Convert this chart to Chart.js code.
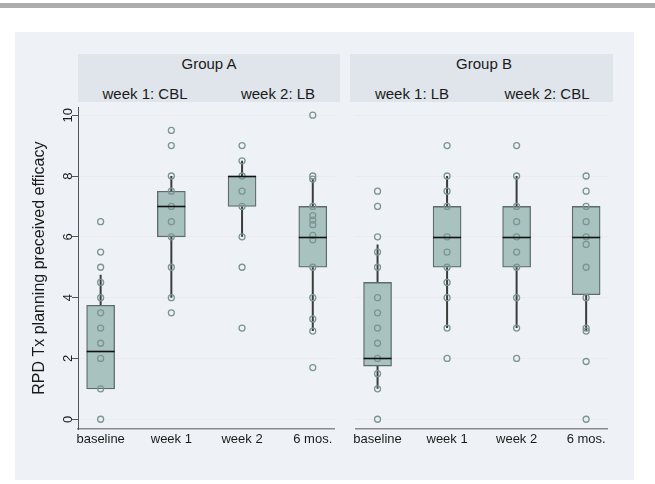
<!DOCTYPE html>
<html>
<head>
<meta charset="utf-8">
<script src="https://cdn.jsdelivr.net/npm/chart.js@4.4.1/dist/chart.umd.min.js"></script>
<style>
  body { margin: 0; background: #fff; font-family: "Liberation Sans", Arial, sans-serif; }
  #topbar { position: absolute; left: 0; top: 3px; width: 655px; height: 5px; background: #adadad; }
  #panel { position: absolute; left: 15px; top: 32px; width: 619px; height: 448px; background: #eef2f6; }
  .head { position: absolute; top: 54px; height: 48px; background: #dfe5eb; color: #1a1a1a; }
  .head div { position: absolute; font-size: 15px; white-space: nowrap; transform: translate(-50%, -50%); }
  .wrap { position: absolute; top: 102px; height: 357px; }
</style>
</head>
<body>
<div id="topbar"></div>
<div id="panel"></div>

<div class="head" style="left:78px;width:262px">
  <div style="left:131px;top:9px">Group A</div>
  <div style="left:67px;top:39px">week 1: CBL</div>
  <div style="left:200px;top:39px">week 2: LB</div>
</div>
<div class="head" style="left:350px;width:263px">
  <div style="left:134px;top:9px">Group B</div>
  <div style="left:62px;top:39px">week 1: LB</div>
  <div style="left:197px;top:39px">week 2: CBL</div>
</div>

<div class="wrap" style="left:15px;width:325px"><canvas id="chartA" width="325" height="357"></canvas></div>
<div class="wrap" style="left:350px;width:263px"><canvas id="chartB" width="263" height="357"></canvas></div>

<script>
// categories and axis ticks
const categories = ["baseline", "week 1", "week 2", "6 mos."];
const yTicks = [0, 2, 4, 6, 8, 10];
const yTitle = "RPD Tx planning preceived efficacy";

// Group A
const aQ1 = [1, 6, 7, 5];
const aMedian = [2.25, 7, 8, 6];
const aQ3 = [3.75, 7.5, 8, 7];
const aLow = [1, 4, 6, 2.9];
const aHigh = [4.75, 8, 8.5, 7.9];
const aPoints = [
  [6.5, 5.5, 5, 4.5, 4, 3.5, 3, 2.5, 2, 1, 0],
  [9.5, 9, 8, 7.5, 7, 6.5, 6, 5, 4, 3.5],
  [9, 8.5, 8, 7.5, 7, 6, 5, 3],
  [10, 8, 7.9, 7, 6.7, 6.55, 6.4, 6.05, 5.9, 5, 4, 3.3, 2.9, 1.7]
];

// Group B
const bQ1 = [1.75, 5, 5, 4.1];
const bMedian = [2, 6, 6, 6];
const bQ3 = [4.5, 7, 7, 7];
const bLow = [1, 3, 3, 2.9];
const bHigh = [5.75, 8, 8, 7];
const bPoints = [
  [7.5, 7, 6, 5.5, 5, 4, 3.5, 3, 2.5, 2, 1.5, 1, 0],
  [9, 8, 7.5, 7, 6, 5.5, 5, 4.5, 4, 3, 2],
  [9, 8, 7, 6.5, 6, 5.5, 5, 4, 3, 2],
  [8, 7.5, 7, 6.5, 6, 5.75, 5, 4, 3, 2.9, 1.9, 0]
];

Chart.defaults.font.family = "'Liberation Sans', Arial, sans-serif";
Chart.defaults.color = "#1a1a1a";

// median line across each box
const medianLines = {
  id: "medianLines",
  afterDatasetsDraw(chart, args, opts) {
    const meta = chart.getDatasetMeta(1);
    const ys = chart.scales.y;
    const ctx = chart.ctx;
    ctx.save();
    ctx.strokeStyle = "#111";
    ctx.lineWidth = 1.6;
    meta.data.forEach((bar, i) => {
      const py = Math.round(ys.getPixelForValue(opts.values[i])) + 0.5;
      const half = bar.width / 2;
      ctx.beginPath();
      ctx.moveTo(bar.x - half, py);
      ctx.lineTo(bar.x + half, py);
      ctx.stroke();
    });
    ctx.restore();
  }
};

// rotated y tick labels like the original
const yTickLabels = {
  id: "yTickLabels",
  afterDraw(chart, args, opts) {
    if (!opts.show) return;
    const ys = chart.scales.y;
    const ctx = chart.ctx;
    ctx.save();
    ctx.font = "13px 'Liberation Sans', Arial, sans-serif";
    ctx.fillStyle = "#1a1a1a";
    ctx.textAlign = "center";
    ctx.textBaseline = "middle";
    yTicks.forEach(v => {
      ctx.save();
      ctx.translate(ys.right - 10, ys.getPixelForValue(v));
      ctx.rotate(-Math.PI / 2);
      ctx.fillText(String(v), 0, 0);
      ctx.restore();
    });
    ctx.restore();
  }
};

function makeChart(id, q1, median, q3, low, high, points, showY) {
  const boxes = categories.map((c, i) => ({ x: i, y: [q1[i], q3[i]] }));
  const whiskers = [];
  categories.forEach((c, i) => {
    whiskers.push({ x: i, y: low[i] }, { x: i, y: q1[i] }, { x: i, y: null });
    whiskers.push({ x: i, y: q3[i] }, { x: i, y: high[i] }, { x: i, y: null });
  });
  const dots = [];
  points.forEach((list, i) => list.forEach(v => dots.push({ x: i, y: v })));

  return new Chart(document.getElementById(id), {
    type: "bar",
    data: {
      datasets: [
        {
          type: "scatter",
          data: dots,
          pointStyle: "circle",
          pointRadius: 3,
          pointBorderWidth: 1.3,
          pointBorderColor: "#7c9592",
          pointBackgroundColor: "rgba(0,0,0,0)",
          order: 0
        },
        {
          type: "bar",
          data: boxes,
          backgroundColor: "#a8c2bf",
          borderColor: "#5d6b6a",
          borderWidth: 1.3,
          borderSkipped: false,
          barThickness: 28,
          order: 1
        },
        {
          type: "line",
          data: whiskers,
          borderColor: "#3c3c3c",
          borderWidth: 2,
          pointRadius: 0,
          spanGaps: false,
          order: 2
        }
      ]
    },
    options: {
      responsive: false,
      animation: false,
      layout: { padding: 0 },
      plugins: {
        legend: { display: false },
        tooltip: { enabled: false },
        medianLines: { values: median },
        yTickLabels: { show: showY }
      },
      scales: {
        x: {
          type: "linear",
          min: -0.32,
          max: 3.31,
          offset: false,
          grid: { display: false, offset: false },
          border: { display: true, color: "#8a8a8a", width: 1.5 },
          ticks: {
            padding: -5,
            font: { size: 13 },
            color: "#1a1a1a",
            maxRotation: 0,
            callback: v => categories[v]
          },
          afterBuildTicks: s => { s.ticks = categories.map((c, i) => ({ value: i })); },
          afterFit: s => { s.height = 30; s.paddingLeft = 0; s.paddingRight = 0; }
        },
        y: {
          type: "linear",
          min: -0.32,
          max: 10.26,
          grid: {
            color: "#ebebeb",
            lineWidth: 1,
            drawTicks: showY,
            tickLength: 6,
            tickColor: "#555"
          },
          border: { display: showY, color: "#555", width: 1 },
          ticks: { display: false },
          title: {
            display: showY,
            text: yTitle,
            font: { size: 16 },
            color: "#1a1a1a",
            padding: { top: 15, bottom: 0 }
          },
          afterBuildTicks: s => { s.ticks = yTicks.map(v => ({ value: v })); },
          afterFit: s => { s.width = showY ? 63 : 0; s.paddingTop = 0; s.paddingBottom = 0; }
        }
      }
    },
    plugins: [medianLines, yTickLabels]
  });
}

makeChart("chartA", aQ1, aMedian, aQ3, aLow, aHigh, aPoints, true);
makeChart("chartB", bQ1, bMedian, bQ3, bLow, bHigh, bPoints, false);
</script>
</body>
</html>
